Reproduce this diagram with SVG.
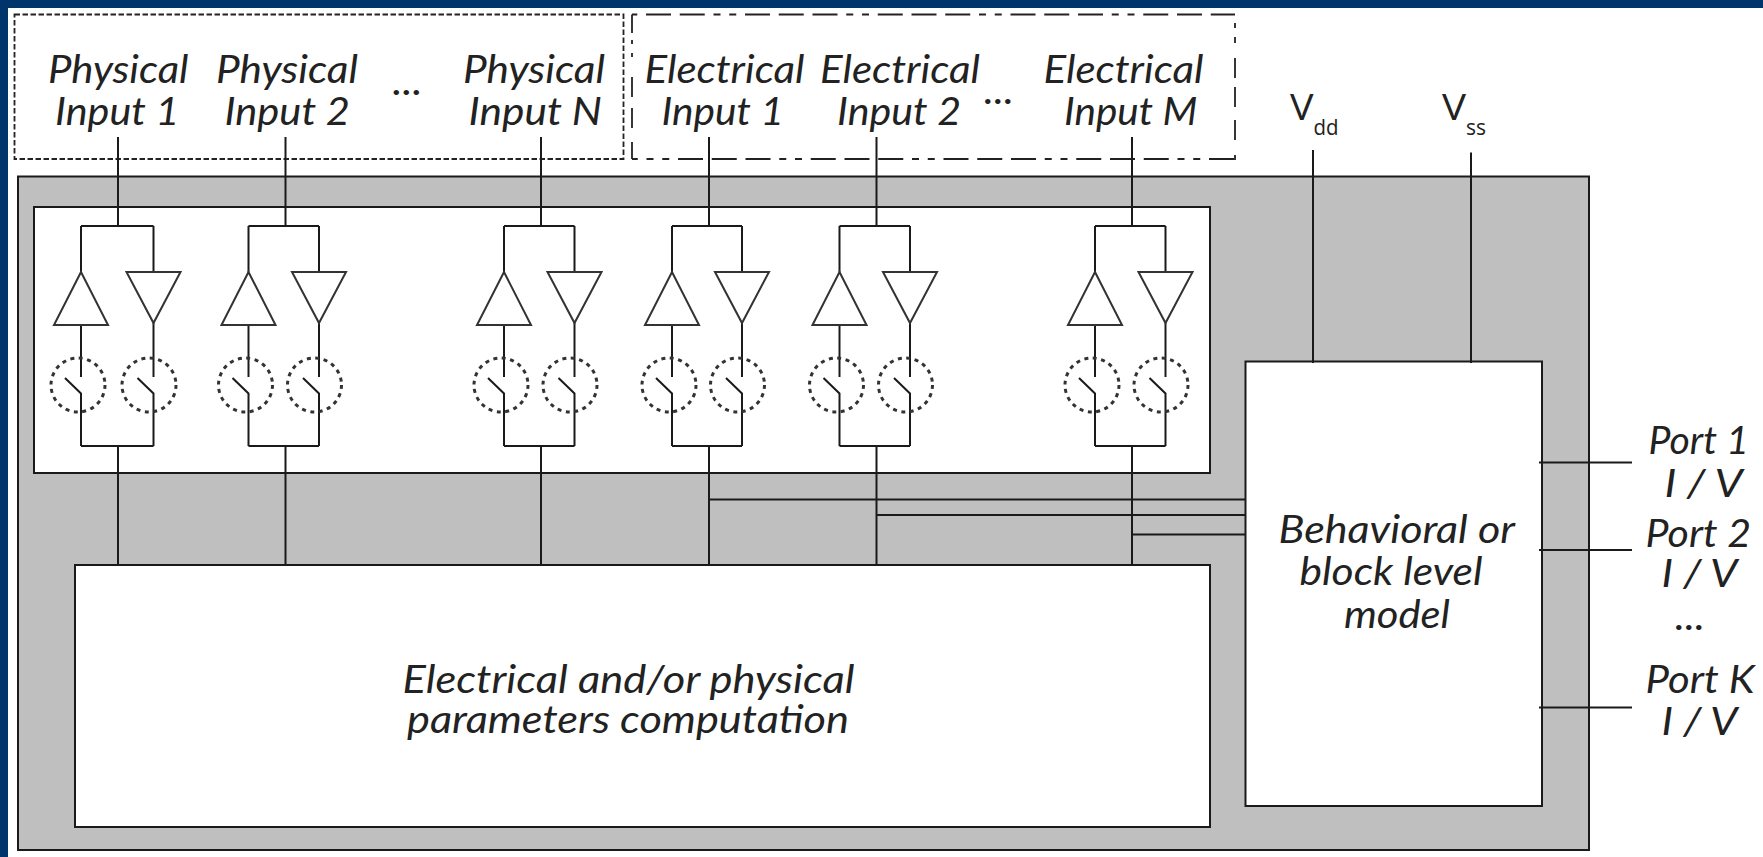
<svg xmlns="http://www.w3.org/2000/svg" width="1763" height="857" viewBox="0 0 1763 857">
<style>
.box{fill:#fff;stroke:#1a1a1a;stroke-width:2}
.ln{fill:none;stroke:#1a1a1a;stroke-width:2}
.tri{fill:#fff;stroke:#333;stroke-width:2}
.dot{fill:none;stroke:#333;stroke-width:3;stroke-dasharray:4 4.500}
.dash{fill:none;stroke:#222;stroke-width:1.800}
.hd{stroke-dasharray:25 8.750 25 8.750 25 8.750 7 8.750 7 8.750}
text{font-family:"Lato","Open Sans",sans-serif;font-style:italic;font-size:38px;fill:#222}
.v{font-style:normal;font-family:"Open Sans",sans-serif;font-size:37px;fill:#222}
.s{font-style:normal;font-family:"Open Sans",sans-serif;font-size:21px}
</style>
<defs>
<g id="legcommon">
<path class="ln" d="M0 226V272M-16 378L0 393.5V446"/>
</g>
<g id="legup">
<use href="#legcommon"/>
<path class="ln" d="M0 325V377"/>
<path class="tri" d="M0 272L-27 325H27Z"/>
<circle class="dot" cx="-3" cy="385" r="27"/>
</g>
<g id="legdown">
<use href="#legcommon"/>
<path class="ln" d="M0 323V377"/>
<path class="tri" d="M-27 272H27L0 323Z"/>
<circle class="dot" cx="-4.500" cy="385" r="27"/>
</g>
</defs>
<rect width="1763" height="857" fill="#fff"/>
<path d="M0 0H1763V8H8V857H0Z" fill="#00356b"/>
<g id="physical-group"><rect class="dash" x="14.500" y="14.500" width="609" height="144.500" stroke-dasharray="5.500 2.500"/></g>
<g id="electrical-group">
<path class="dash hd" stroke-dashoffset="19.750" d="M632 14.500H1235"/>
<path class="dash hd" stroke-dashoffset="86.750" d="M632 159H1235"/>
<path class="dash" stroke-dasharray="18.500 7 4 9 4 20 20 11 20 14 17" d="M632 14.500V159"/>
<path class="dash" stroke-dasharray="0 8.500 5 9 6 15 20 9 20 13 20 15 5" d="M1235 14.500V160"/>
</g>
<g id="chip"><rect x="18" y="176.500" width="1571" height="673.500" fill="#bfbfbf" stroke="#1a1a1a" stroke-width="2"/></g>
<g id="buffers"><rect class="box" x="34" y="207" width="1176" height="266"/></g>
<g id="computation"><rect class="box" x="75" y="565" width="1135" height="262"/>
<text x="402.500" y="692.500" textLength="452" lengthAdjust="spacingAndGlyphs">Electrical and/or physical</text>
<text x="407" y="733" textLength="442" lengthAdjust="spacingAndGlyphs">parameters computation</text></g>
<g id="model"><rect class="box" x="1245.500" y="361.500" width="296.500" height="444.500"/>
<text x="1278.500" y="542.500" textLength="236.500" lengthAdjust="spacingAndGlyphs">Behavioral or</text>
<text x="1299.500" y="585" textLength="183" lengthAdjust="spacingAndGlyphs">block level</text>
<text x="1344" y="627.500" textLength="106" lengthAdjust="spacingAndGlyphs">model</text></g>
<g id="branch-p1"><path class="ln" d="M81 226H153.500M81 446H153.500"/><use href="#legup" x="81"/><use href="#legdown" x="153.500"/></g>
<g id="branch-p2"><path class="ln" d="M248.500 226H319M248.500 446H319"/><use href="#legup" x="248.500"/><use href="#legdown" x="319"/></g>
<g id="branch-pn"><path class="ln" d="M504 226H574.500M504 446H574.500"/><use href="#legup" x="504"/><use href="#legdown" x="574.500"/></g>
<g id="branch-e1"><path class="ln" d="M672 226H742M672 446H742"/><use href="#legup" x="672"/><use href="#legdown" x="742"/></g>
<g id="branch-e2"><path class="ln" d="M839.500 226H910M839.500 446H910"/><use href="#legup" x="839.500"/><use href="#legdown" x="910"/></g>
<g id="branch-em"><path class="ln" d="M1095 226H1165.500M1095 446H1165.500"/><use href="#legup" x="1095"/><use href="#legdown" x="1165.500"/></g>
<g id="connectors" class="ln">
<path d="M118 137V226M118 446V565"/>
<path d="M285.500 137V226M285.500 446V565"/>
<path d="M541 137V226M541 446V565"/>
<path d="M709 137V226M709 446V565"/>
<path d="M876.500 137V226M876.500 446V565"/>
<path d="M1132 137V226M1132 446V565"/>
<path d="M709 499.500H1245.500M876.500 515H1245.500M1132 534.500H1245.500"/>
<path d="M1313 150V363M1471 152.500V363"/>
<path d="M1539 462.500H1632M1539 550H1632M1539 707.500H1632"/>
</g>
<g id="input-p1"><text x="48" y="82.500" textLength="140.500" lengthAdjust="spacingAndGlyphs">Physical</text><text x="55" y="125" textLength="124.500" lengthAdjust="spacingAndGlyphs">Input 1</text></g>
<g id="input-p2"><text x="216" y="82.500" textLength="142" lengthAdjust="spacingAndGlyphs">Physical</text><text x="224.500" y="125" textLength="125.500" lengthAdjust="spacingAndGlyphs">Input 2</text></g>
<text id="dots-p" x="392.500" y="95" textLength="30" lengthAdjust="spacingAndGlyphs">...</text>
<g id="input-pn"><text x="463" y="82.500" textLength="142" lengthAdjust="spacingAndGlyphs">Physical</text><text x="468.500" y="125" textLength="133.500" lengthAdjust="spacingAndGlyphs">Input N</text></g>
<g id="input-e1"><text x="644.500" y="82.500" textLength="160" lengthAdjust="spacingAndGlyphs">Electrical</text><text x="661.500" y="125" textLength="122.500" lengthAdjust="spacingAndGlyphs">Input 1</text></g>
<g id="input-e2"><text x="820" y="82.500" textLength="160" lengthAdjust="spacingAndGlyphs">Electrical</text><text x="837" y="125" textLength="124" lengthAdjust="spacingAndGlyphs">Input 2</text></g>
<text id="dots-e" x="984" y="104" textLength="30" lengthAdjust="spacingAndGlyphs">...</text>
<g id="input-em"><text x="1043.500" y="82.500" textLength="160" lengthAdjust="spacingAndGlyphs">Electrical</text><text x="1064" y="125" textLength="133.500" lengthAdjust="spacingAndGlyphs">Input M</text></g>
<g id="vdd"><text class="v" x="1290" y="119.500" textLength="23.500" lengthAdjust="spacingAndGlyphs">V</text><text class="s" x="1313.500" y="135" textLength="25" lengthAdjust="spacingAndGlyphs">dd</text></g>
<g id="vss"><text class="v" x="1442" y="119.500" textLength="24" lengthAdjust="spacingAndGlyphs">V</text><text class="s" x="1466" y="135" textLength="20" lengthAdjust="spacingAndGlyphs">ss</text></g>
<g id="port-1"><text x="1648.500" y="454" textLength="100.500" lengthAdjust="spacingAndGlyphs">Port 1</text><text x="1664.500" y="496.500" textLength="78" lengthAdjust="spacingAndGlyphs">I / V</text></g>
<g id="port-2"><text x="1645.500" y="546.500" textLength="105.500" lengthAdjust="spacingAndGlyphs">Port 2</text><text x="1661.500" y="587" textLength="76" lengthAdjust="spacingAndGlyphs">I / V</text></g>
<text id="dots-port" x="1675" y="630" textLength="30" lengthAdjust="spacingAndGlyphs">...</text>
<g id="port-k"><text x="1645.500" y="693" textLength="109" lengthAdjust="spacingAndGlyphs">Port K</text><text x="1661.500" y="735" textLength="76" lengthAdjust="spacingAndGlyphs">I / V</text></g>
</svg>
